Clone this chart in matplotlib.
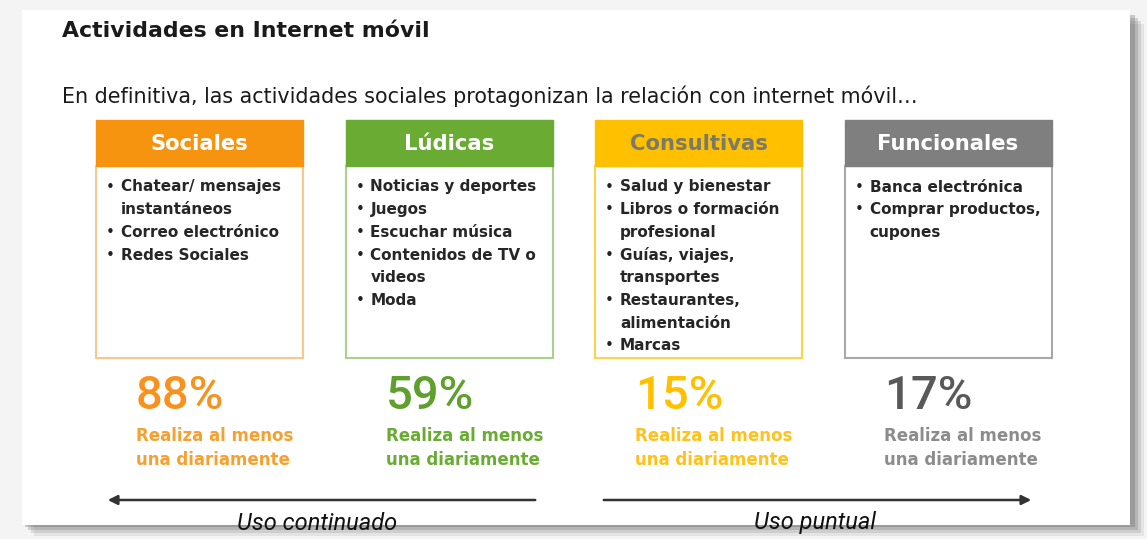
import matplotlib
matplotlib.use("Agg")
import matplotlib.pyplot as plt
from matplotlib.patches import Rectangle

# ---------------- data ----------------
title = "Actividades en Internet móvil"
subtitle = "En definitiva, las actividades sociales protagonizan la relación con internet móvil…"
categories = ["Sociales", "Lúdicas", "Consultivas", "Funcionales"]
percentages = [88, 59, 15, 17]
pct_caption = ["Realiza al menos", "una diariamente"]
items = [
    ["Chatear/ mensajes\ninstantáneos", "Correo electrónico", "Redes Sociales"],
    ["Noticias y deportes", "Juegos", "Escuchar música", "Contenidos de TV o\nvideos", "Moda"],
    ["Salud y bienestar", "Libros o formación\nprofesional", "Guías, viajes,\ntransportes",
     "Restaurantes,\nalimentación", "Marcas"],
    ["Banca electrónica", "Comprar productos,\ncupones"],
]
usage_labels = ["Uso continuado", "Uso puntual"]

# ---------------- styles ----------------
header_colors = ["#F7940F", "#6AAB34", "#FFC000", "#7F7F7F"]
header_text_colors = ["white", "white", "#7A7A6A", "white"]
border_colors = ["#FAC88C", "#A9D08E", "#FFD24D", "#A8A8A8"]
pct_colors = ["#F7921E", "#5E9F2D", "#FFC000", "#595959"]
caption_colors = ["#F7A030", "#6AAB34", "#FFC21A", "#8C8C8C"]

W, H = 1147, 539
fig = plt.figure(figsize=(W / 100, H / 100), dpi=100)
fig.patch.set_facecolor("#F4F4F4")
ax = fig.add_axes([0, 0, 1, 1])
ax.set_xlim(0, W)
ax.set_ylim(H, 0)
ax.axis("off")

# frame with shadow
for k, a in enumerate([0.10, 0.16, 0.22, 0.30]):
    ax.add_patch(Rectangle((22 + 3 * (4 - k), 12 + 3 * (4 - k)), 1110, 512,
                           facecolor="#606060", alpha=a, edgecolor="none", zorder=0))
ax.add_patch(Rectangle((0, 0), 1147, 539, facecolor="#F4F4F4", edgecolor="none", zorder=-1))
ax.add_patch(Rectangle((22, 10), 1108, 515, facecolor="white", edgecolor="none", zorder=1))

ax.text(62, 31, title, fontsize=15.8, fontweight="bold", color="#1A1A1A",
        family="DejaVu Sans", va="center", ha="left", zorder=3)
ax.text(62, 96, subtitle, fontsize=14.9, color="#1A1A1A",
        family="DejaVu Sans", va="center", ha="left", zorder=3)

box_w, head_h, body_h = 207, 46, 192
x_start, x_step, y_top = 96, 249.5, 120
line_h = 22.7

for i, cat in enumerate(categories):
    x0 = x_start + i * x_step
    ax.add_patch(Rectangle((x0, y_top + head_h), box_w, body_h, facecolor="white",
                           edgecolor=border_colors[i], lw=1.5, zorder=2))
    ax.add_patch(Rectangle((x0, y_top), box_w, head_h, facecolor=header_colors[i],
                           edgecolor=header_colors[i], lw=1, zorder=3))
    ax.text(x0 + box_w / 2, y_top + head_h / 2 + 1, cat, fontsize=15.2, fontweight="bold",
            color=header_text_colors[i], family="DejaVu Sans", ha="center", va="center", zorder=4)
    y = 187
    for it in items[i]:
        for j, ln in enumerate(it.split("\n")):
            if j == 0:
                ax.text(x0 + 10, y, "•", fontsize=11, color="#222222", family="DejaVu Sans",
                        ha="left", va="center", zorder=4)
            ax.text(x0 + 25, y, ln, fontsize=11, fontweight="bold", color="#262626",
                    family="DejaVu Sans", ha="left", va="center", zorder=4)
            y += line_h
    # percentages
    ax.text(x0 + 40, 396, f"{percentages[i]}%", fontsize=34, fontweight="medium",
            color=pct_colors[i], family="Roboto", ha="left", va="center", zorder=4)
    for j, cap in enumerate(pct_caption):
        ax.text(x0 + 40, 436 + j * 24, cap, fontsize=12, fontweight="bold",
                color=caption_colors[i], family="DejaVu Sans", ha="left", va="center", zorder=4)

# arrows
ax.annotate("", xy=(105, 500), xytext=(538, 500), zorder=4,
            arrowprops=dict(arrowstyle="-|>", color="#333333", lw=1.8, mutation_scale=14))
ax.annotate("", xy=(1034, 500), xytext=(601, 500), zorder=4,
            arrowprops=dict(arrowstyle="-|>", color="#333333", lw=1.8, mutation_scale=14))
ax.text(317, 523, usage_labels[0], fontsize=17, style="italic", color="#111111",
        family="Roboto", ha="center", va="center", zorder=4)
ax.text(815, 523, usage_labels[1], fontsize=17, style="italic", color="#111111",
        family="Roboto", ha="center", va="center", zorder=4)

fig.savefig("out.png", dpi=100, facecolor=fig.get_facecolor())
